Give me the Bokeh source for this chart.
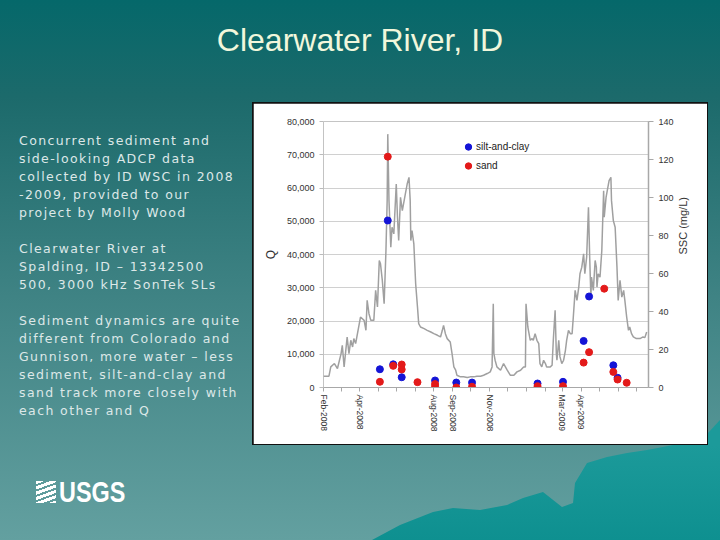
import math
from bokeh.plotting import figure
from bokeh.models import (Range1d, LinearAxis, FixedTicker, NumeralTickFormatter,
                          Legend, LegendItem, Div)
from bokeh.layouts import column, row
from bokeh.embed import file_html
from bokeh.resources import INLINE

# ---------------- data ----------------
slide_title = "Clearwater River, ID"
record_start = "2008-02-01"  # day 0 of the record

# discharge Q (cfs); day = days since record_start
q_day = [0, 9, 12, 18, 23, 29, 31, 34, 39, 42, 45, 48, 50, 53, 56, 61, 67, 70, 72, 75,
         78, 83, 86, 89, 92, 94, 97, 100, 103, 105, 106, 108, 111, 113, 116, 120, 122,
         124, 127, 130, 133, 135, 138, 141, 143, 144, 146, 149, 152, 155, 157, 160, 166,
         171, 177, 182, 188, 193, 196, 198, 201, 204, 209, 212, 215, 218, 220, 226, 231,
         237, 242, 248, 253, 259, 264, 270, 275, 278, 280, 281, 283, 286, 292, 297, 300,
         303, 308, 314, 319, 325, 330, 333, 334, 337, 338, 341, 344, 346, 349, 352, 355,
         357, 360, 363, 366, 368, 371, 374, 377, 379, 382, 384, 385, 388, 390, 393, 396,
         399, 401, 404, 407, 410, 412, 415, 418, 421, 423, 426, 429, 431, 434, 437, 439,
         441, 442, 445, 448, 450, 451, 453, 456, 459, 462, 463, 466, 468, 471, 474, 475,
         478, 481, 484, 486, 489, 492, 495, 497, 500, 503, 505, 508, 511, 516, 522, 527,
         530, 533]
q_cfs = [3400, 3400, 6200, 7200, 5700, 10200, 12700, 6200, 15200, 10200, 14200, 12200,
         14700, 13200, 16200, 21200, 20200, 17200, 26200, 22200, 20200, 20200, 29200,
         24200, 38200, 37200, 32200, 25200, 41200, 56200, 76200, 56200, 42200, 48200,
         46200, 61200, 51200, 44200, 57200, 53200, 56200, 58200, 61200, 63200, 56200,
         44200, 47200, 43200, 31200, 24200, 19200, 18200, 17700, 17200, 16700, 16200,
         15700, 15200, 17200, 18700, 16200, 14700, 13700, 10200, 6200, 5200, 3700, 3200,
         3200, 3000, 3200, 3200, 3400, 3400, 3700, 4200, 4700, 6200, 25200, 10200, 8200,
         6200, 5200, 7200, 6200, 5200, 3700, 3700, 4700, 5200, 6200, 6200, 25200, 18200,
         17200, 14200, 14700, 14200, 16200, 14200, 13200, 7200, 6200, 8200, 7200, 6200,
         6200, 6200, 6700, 14200, 23200, 10200, 8200, 14200, 9200, 7200, 8200, 11200,
         14200, 17200, 16200, 16200, 21200, 29200, 26200, 30200, 34200, 36200, 40200,
         34200, 39200, 54200, 39200, 27200, 33200, 29200, 38200, 36200, 30200, 34200,
         33200, 41200, 59200, 51200, 57200, 59200, 62200, 63200, 56200, 50200, 48200,
         36200, 26200, 32200, 27200, 29200, 26200, 21200, 17200, 18200, 16200, 15200,
         14700, 14700, 15200, 15000, 16700]

# suspended-sediment concentration (mg/L)
silt_day = [93, 106, 115, 129, 184, 219, 245, 353, 395, 429, 438, 478, 485]
silt_ssc = [9.6, 87.9, 12.2, 5.4, 3.7, 2.6, 2.6, 2.1, 3.0, 24.5, 47.9, 11.7, 5.1]
sand_day = [93, 106, 115, 129, 129, 155, 184, 184, 219, 245, 353, 395, 429, 438, 463,
            478, 485, 500]
sand_ssc = [3.0, 121.5, 11.4, 12.1, 9.5, 2.8, 1.8, 0.4, 0.0, 0.4, 0.7, 0.7, 13.1, 18.6,
            52.0, 8.2, 4.2, 2.5]

month_day = [0, 29, 60, 90, 121, 151, 182, 213, 243, 274, 304, 335, 366, 394, 425, 455,
             486, 516]
month_label = ["Feb-2008", "", "Apr-2008", "", "", "", "Aug-2008", "Sep-2008", "",
               "Nov-2008", "", "", "", "Mar-2009", "Apr-2009", "", "", ""]
q_ticks = [0, 10000, 20000, 30000, 40000, 50000, 60000, 70000, 80000]
ssc_ticks = [0, 20, 40, 60, 80, 100, 120, 140]
ssc_label = "SSC (mg/L)"

para1 = ["Concurrent sediment and", "side-looking ADCP data",
         "collected by ID WSC in 2008", "-2009, provided to our", "project by Molly Wood"]
para2 = ["Clearwater River at", "Spalding, ID \u2013 13342500", "500, 3000 kHz SonTek SLs"]
para3 = ["Sediment dynamics are quite", "different from Colorado and",
         "Gunnison, more water \u2013 less", "sediment, silt-and-clay and",
         "sand track more closely with", "each other and Q"]

# ---------------- chart ----------------
FONT = "Liberation Sans"
p = figure(width=454, height=341, x_range=Range1d(0, 536), y_range=Range1d(0, 80000),
           output_backend="svg", toolbar_location=None,
           min_border_left=70, min_border_right=59, min_border_top=18, min_border_bottom=57,
           background_fill_color="white", border_fill_color="white",
           outline_line_color=None, margin=(1, 1, 1, 1))
p.extra_y_ranges = {"ssc": Range1d(0, 140)}

p.line(q_day, q_cfs, color="#a0a0a0", line_width=1.5)
r_silt = p.scatter(silt_day, silt_ssc, y_range_name="ssc", size=7,
                   fill_color="#1414d6", line_color="#1414d6")
r_sand = p.scatter(sand_day, sand_ssc, y_range_name="ssc", size=7,
                   fill_color="#e31a1a", line_color="#e31a1a")

xa = p.xaxis[0]
xa.ticker = FixedTicker(ticks=month_day)
xa.major_label_overrides = {d: lab for d, lab in zip(month_day, month_label)}
xa.major_label_orientation = "vertical"
xa.axis_line_color = "#a8a8a8"
xa.major_tick_line_color = "#a8a8a8"
xa.major_tick_in = 0
xa.major_tick_out = 4
xa.minor_tick_line_color = None
xa.major_label_text_font = FONT
xa.major_label_text_font_size = "8.5px"
xa.major_label_text_color = "#333333"
xa.major_label_standoff = 3

ya = p.yaxis[0]
ya.ticker = FixedTicker(ticks=q_ticks)
ya.formatter = NumeralTickFormatter(format="0,0")
ya.axis_line_color = None
ya.major_tick_line_color = "#bbbbbb"
ya.major_tick_in = 0
ya.major_tick_out = 4
ya.minor_tick_line_color = None
ya.major_label_text_font = FONT
ya.major_label_text_font_size = "9px"
ya.major_label_text_color = "#333333"
ya.axis_label = "Q"
ya.axis_label_text_font = FONT
ya.axis_label_text_font_style = "normal"
ya.axis_label_text_font_size = "12px"
ya.axis_label_text_color = "#333333"
ya.axis_label_standoff = 6

ra = LinearAxis(y_range_name="ssc", ticker=FixedTicker(ticks=ssc_ticks),
                axis_label=ssc_label)
ra.axis_line_color = "#a8a8a8"
ra.axis_line_width = 1.5
ra.major_tick_line_color = "#a8a8a8"
ra.major_tick_in = 0
ra.major_tick_out = 5
ra.minor_tick_line_color = None
ra.major_label_text_font = FONT
ra.major_label_text_font_size = "9px"
ra.major_label_text_color = "#333333"
ra.axis_label_text_font = FONT
ra.axis_label_text_font_style = "normal"
ra.axis_label_text_font_size = "11px"
ra.axis_label_text_color = "#333333"
ra.axis_label_standoff = 6
if "axis_label_orientation" in ra.properties():
    ra.axis_label_orientation = math.pi / 2
p.add_layout(ra, "right")

p.ygrid.ticker = FixedTicker(ticks=q_ticks)
p.ygrid.grid_line_color = "#d0d0d0"
p.xgrid.grid_line_color = None

legend = Legend(items=[LegendItem(label="silt-and-clay", renderers=[r_silt]),
                       LegendItem(label="sand", renderers=[r_sand])],
                location=(137, 212), orientation="vertical",
                glyph_width=16, glyph_height=19, label_height=19, label_standoff=0,
                spacing=0, padding=2, margin=0,
                label_text_font=FONT, label_text_font_size="10px",
                label_text_color="#222222",
                background_fill_alpha=0, border_line_color=None)
p.add_layout(legend)

chart_box = column(p, width=456, height=343, margin=0,
                   styles={"background-color": "#111111"})

# ---------------- slide ----------------
title_div = Div(
    text=(f'<div style="width:720px;height:102px;text-align:center;padding-top:22px;'
          f'box-sizing:border-box;font-family:\'Liberation Sans\';font-size:32px;'
          f'line-height:36px;color:#f1f7dc;">{slide_title}</div>'),
    width=720, height=102, margin=0)

body_html = "<br><br>".join("<br>".join(pp) for pp in (para1, para2, para3))
left_div = Div(
    text=(f'<div style="padding-top:30px;padding-left:19px;font-family:\'DejaVu Sans\';'
          f'font-size:12.5px;letter-spacing:1.4px;line-height:18px;color:#dde8e8;'
          f'white-space:nowrap;">{body_html}</div>'),
    width=252, height=343, margin=0)

filler = Div(
    text=('<div style="position:relative;width:12px;height:343px;overflow:hidden;">'
          '<div style="position:absolute;left:0;top:0;width:12px;height:343px;'
          'background:#1c9a9a;clip-path:polygon(0px 331px, 12px 318px, 12px 343px, 0px 343px);">'
          '</div></div>'),
    width=12, height=343, margin=0)
middle = row(left_div, chart_box, filler, margin=0, spacing=0)

mountain = ("polygon(372px 95px, 400px 80px, 433px 67px, 453px 63px, 480px 65px, "
            "507px 60px, 523px 53px, 543px 47px, 562px 62px, 573px 58px, 575px 38px, "
            "587px 18px, 607px 12px, 627px 8px, 647px 5px, 673px 0px, 720px 0px, "
            "720px 95px)")
bottom_div = Div(
    text=('<div style="position:relative;width:720px;height:95px;overflow:hidden;">'
          f'<div style="position:absolute;left:0;top:0;width:720px;height:95px;'
          f'background:linear-gradient(to bottom,#1c9a9a,#0e9090);clip-path:{mountain};"></div>'
          '<div style="position:absolute;left:36px;top:34px;display:flex;align-items:center;">'
          '<span style="display:inline-block;width:20px;height:22px;margin-right:3px;'
          'background:repeating-linear-gradient(160deg,#ffffff 0px,#ffffff 3px,#5f9c9c 3px,#5f9c9c 5px);"></span>'
          '<span style="display:inline-block;transform:scaleX(0.78);transform-origin:left center;'
          'font-family:\'Liberation Sans\';font-weight:bold;'
          'font-size:30px;line-height:26px;color:#ffffff;">USGS</span></div></div>'),
    width=720, height=95, margin=0)

page = column(title_div, middle, bottom_div, width=720, height=540, spacing=0, margin=0,
              styles={"background": "linear-gradient(to bottom, #05686a 0%, #1c6a6b 18%, "
                                    "#3f8384 55%, #63a0a0 100%)"})

open("out.html", "w").write(file_html(page, INLINE))
